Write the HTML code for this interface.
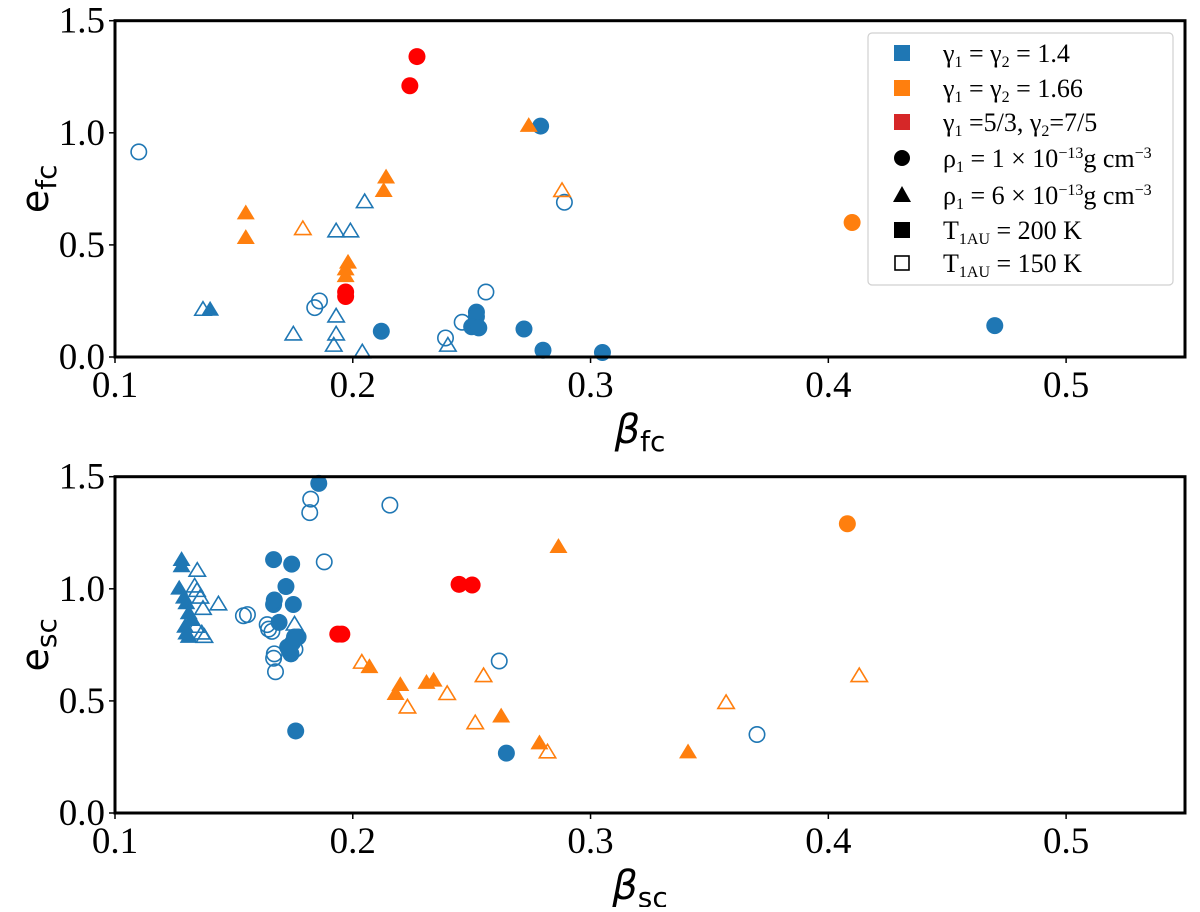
<!DOCTYPE html>
<html><head><meta charset="utf-8"><style>
html,body{margin:0;padding:0;background:#fff;}
svg text{font-family:"Liberation Serif",serif;}
.sans{font-family:"DejaVu Sans","Liberation Sans",sans-serif;}
</style></head><body>
<svg id="fig" width="1200" height="907" viewBox="0 0 1200 907" xmlns="http://www.w3.org/2000/svg">
<g id="top"></g>
<g id="bot"></g>
<g id="legend"></g>
</svg>
<script>
// ---- shared axis data ----
const xTicks = [0.1, 0.2, 0.3, 0.4, 0.5];
const yTicks = [0.0, 0.5, 1.0, 1.5];
const xDomain = [0.1, 0.55];
const yDomain = [0.0, 1.5];

// ---- top panel data (beta_fc, e_fc) ----
const topBlueCircleFilledX = [0.279, 0.47, 0.212, 0.252, 0.252, 0.250, 0.253, 0.272, 0.280, 0.305];
const topBlueCircleFilledY = [1.03, 0.14, 0.115, 0.20, 0.18, 0.135, 0.13, 0.125, 0.03, 0.02];
const topBlueCircleOpenX = [0.110, 0.186, 0.184, 0.239, 0.246, 0.256, 0.289];
const topBlueCircleOpenY = [0.915, 0.25, 0.22, 0.085, 0.155, 0.29, 0.69];
const topBlueTriOpenX = [0.137, 0.175, 0.193, 0.199, 0.205, 0.193, 0.193, 0.192, 0.204, 0.240];
const topBlueTriOpenY = [0.21, 0.10, 0.56, 0.56, 0.69, 0.18, 0.10, 0.05, 0.02, 0.05];
const topBlueTriFilledX = [0.140];
const topBlueTriFilledY = [0.21];
const topOrangeTriFilledX = [0.155, 0.155, 0.214, 0.213, 0.198, 0.197, 0.197, 0.274];
const topOrangeTriFilledY = [0.64, 0.53, 0.80, 0.74, 0.42, 0.39, 0.36, 1.03];
const topOrangeTriOpenX = [0.179, 0.288];
const topOrangeTriOpenY = [0.57, 0.74];
const topOrangeCircleFilledX = [0.41];
const topOrangeCircleFilledY = [0.60];
const topRedCircleX = [0.227, 0.224, 0.197, 0.197];
const topRedCircleY = [1.34, 1.21, 0.29, 0.27];

// ---- bottom panel data (beta_sc, e_sc) ----
const botBlueCircleFilledX = [0.1857, 0.1667, 0.1743, 0.1719, 0.1667, 0.167, 0.175, 0.169, 0.177, 0.1747, 0.174, 0.1726, 0.1755, 0.176, 0.2646];
const botBlueCircleFilledY = [1.47, 1.13, 1.11, 1.01, 0.93, 0.95, 0.93, 0.85, 0.785, 0.76, 0.71, 0.74, 0.785, 0.366, 0.267];
const botBlueCircleOpenX = [0.1823, 0.1819, 0.188, 0.2156, 0.1557, 0.154, 0.164, 0.1646, 0.166, 0.167, 0.1667, 0.1675, 0.1757, 0.2616, 0.370];
const botBlueCircleOpenY = [1.40, 1.34, 1.12, 1.373, 0.885, 0.88, 0.84, 0.82, 0.81, 0.71, 0.69, 0.63, 0.73, 0.678, 0.35];
const botBlueTriFilledX = [0.128, 0.127, 0.129, 0.130, 0.131, 0.1295, 0.130, 0.131, 0.128, 0.132];
const botBlueTriFilledY = [1.128, 1.00, 0.96, 0.935, 0.89, 0.83, 0.80, 0.785, 1.10, 0.86];
const botBlueTriOpenX = [0.1346, 0.1335, 0.1359, 0.137, 0.1435, 0.1376, 0.1365, 0.1345, 0.1755, 0.134];
const botBlueTriOpenY = [1.08, 1.01, 0.96, 0.91, 0.93, 0.785, 0.80, 0.99, 0.84, 0.83];
const botOrangeTriFilledX = [0.207, 0.220, 0.218, 0.231, 0.234, 0.2624, 0.2785, 0.2865, 0.341];
const botOrangeTriFilledY = [0.65, 0.57, 0.53, 0.58, 0.59, 0.43, 0.31, 1.186, 0.27];
const botOrangeTriOpenX = [0.2038, 0.223, 0.2397, 0.255, 0.2515, 0.2819, 0.357, 0.413];
const botOrangeTriOpenY = [0.67, 0.47, 0.53, 0.61, 0.40, 0.27, 0.49, 0.61];
const botOrangeCircleFilledX = [0.408];
const botOrangeCircleFilledY = [1.29];
const botRedCircleX = [0.2447, 0.2502, 0.1937, 0.1954];
const botRedCircleY = [1.02, 1.017, 0.798, 0.798];

const NS = "http://www.w3.org/2000/svg";
const BLUE = "#1f77b4", ORANGE = "#ff7f0e", RED = "#ff0000";
function mk(tag, attrs, parent){ const e=document.createElementNS(NS,tag); for(const k in attrs) e.setAttribute(k,attrs[k]); parent.appendChild(e); return e; }

function panel(g, top, bottom, xlab, ylab, series, nameP){
  const L=115, R=1185;
  const sx = v => L + (v - xDomain[0]) / (xDomain[1]-xDomain[0]) * (R-L);
  const sy = v => bottom - (v - yDomain[0]) / (yDomain[1]-yDomain[0]) * (bottom-top);
  series.forEach(s => {
    s.xs.forEach((xv,i) => {
      const cx=sx(xv), cy=sy(s.ys[i]);
      let el;
      const fill = s.filled ? s.color : "none";
      const sw = s.filled ? 0 : 1.6;
      const rr = s.filled ? 8.5 : 7.7;
      if (s.shape === "circle") {
        el = mk("circle",{cx:cx,cy:cy,r:rr,fill:fill,stroke:s.color,"stroke-width":sw},g);
      } else {
        const h = s.filled ? 9 : 8.2;
        el = mk("polygon",{points:`${cx},${cy-h} ${cx+h*1.0},${cy+h*0.65} ${cx-h*1.0},${cy+h*0.65}`,fill:fill,stroke:s.color,"stroke-width":sw,"stroke-linejoin":"miter"},g);
      }
      
      
    });
  });
  const fr = mk("rect",{x:L,y:top,width:R-L,height:bottom-top,fill:"none",stroke:"#000","stroke-width":3},g);
  
  
  xTicks.forEach(t => {
    const x=sx(t);
    const tk = mk("line",{x1:x,x2:x,y1:bottom,y2:bottom+6,stroke:"#000","stroke-width":1.5},g);
    
    
    const tx = mk("text",{x:x,y:bottom+40,"text-anchor":"middle","font-size":37},g);
    tx.textContent = t.toFixed(1);
    
    
  });
  yTicks.forEach(t => {
    const y=sy(t);
    const tk = mk("line",{x1:L-6,x2:L,y1:y,y2:y,stroke:"#000","stroke-width":1.5},g);
    
    
    const tx = mk("text",{x:L-10,y:y+12,"text-anchor":"end","font-size":37},g);
    tx.textContent = t.toFixed(1);
    
    
  });
  const xt = mk("text",{x:640,y:bottom+86,"text-anchor":"middle","font-size":40,"font-style":"italic",class:"sans"},g);
  xt.innerHTML = 'β<tspan font-size="28" font-style="normal" dy="8">'+xlab+'</tspan>';
  
  
  const cy=(top+bottom)/2;
  const yt = mk("text",{x:0,y:0,"text-anchor":"middle","font-size":38,class:"sans",transform:`translate(48,${cy}) rotate(-90)`},g);
  yt.innerHTML = 'e<tspan font-size="28" dy="8">'+ylab+'</tspan>';
  
  
}

panel(document.getElementById("top"), 20.7, 357, "fc", "fc", [
  {name:"blue-open-circle", xs:topBlueCircleOpenX, ys:topBlueCircleOpenY, color:BLUE, shape:"circle", filled:false},
  {name:"blue-open-triangle", xs:topBlueTriOpenX, ys:topBlueTriOpenY, color:BLUE, shape:"tri", filled:false},
  {name:"blue-filled-circle", xs:topBlueCircleFilledX, ys:topBlueCircleFilledY, color:BLUE, shape:"circle", filled:true},
  {name:"blue-filled-triangle", xs:topBlueTriFilledX, ys:topBlueTriFilledY, color:BLUE, shape:"tri", filled:true},
  {name:"orange-open-triangle", xs:topOrangeTriOpenX, ys:topOrangeTriOpenY, color:ORANGE, shape:"tri", filled:false},
  {name:"orange-filled-triangle", xs:topOrangeTriFilledX, ys:topOrangeTriFilledY, color:ORANGE, shape:"tri", filled:true},
  {name:"orange-filled-circle", xs:topOrangeCircleFilledX, ys:topOrangeCircleFilledY, color:ORANGE, shape:"circle", filled:true},
  {name:"red-filled-circle", xs:topRedCircleX, ys:topRedCircleY, color:RED, shape:"circle", filled:true}
], "top");

panel(document.getElementById("bot"), 476.7, 813, "sc", "sc", [
  {name:"blue-open-circle", xs:botBlueCircleOpenX, ys:botBlueCircleOpenY, color:BLUE, shape:"circle", filled:false},
  {name:"blue-open-triangle", xs:botBlueTriOpenX, ys:botBlueTriOpenY, color:BLUE, shape:"tri", filled:false},
  {name:"blue-filled-circle", xs:botBlueCircleFilledX, ys:botBlueCircleFilledY, color:BLUE, shape:"circle", filled:true},
  {name:"blue-filled-triangle", xs:botBlueTriFilledX, ys:botBlueTriFilledY, color:BLUE, shape:"tri", filled:true},
  {name:"orange-open-triangle", xs:botOrangeTriOpenX, ys:botOrangeTriOpenY, color:ORANGE, shape:"tri", filled:false},
  {name:"orange-filled-triangle", xs:botOrangeTriFilledX, ys:botOrangeTriFilledY, color:ORANGE, shape:"tri", filled:true},
  {name:"orange-filled-circle", xs:botOrangeCircleFilledX, ys:botOrangeCircleFilledY, color:ORANGE, shape:"circle", filled:true},
  {name:"red-filled-circle", xs:botRedCircleX, ys:botRedCircleY, color:RED, shape:"circle", filled:true}
], "bottom");

// ---- legend ----
const lg = document.getElementById("legend");
const box = mk("rect",{x:868,y:33,width:305,height:252,rx:4,fill:"#fff",stroke:"#d0d0d0","stroke-width":1.2},lg);


const legRows = [
  {y:53, kind:"sq", color:"#1f77b4", html:'γ<tspan font-size="16" dy="5">1</tspan><tspan dy="-5"> = γ</tspan><tspan font-size="16" dy="5">2</tspan><tspan dy="-5"> = 1.4</tspan>', name:"legend-entry-gamma-1-4"},
  {y:88, kind:"sq", color:"#ff7f0e", html:'γ<tspan font-size="16" dy="5">1</tspan><tspan dy="-5"> = γ</tspan><tspan font-size="16" dy="5">2</tspan><tspan dy="-5"> = 1.66</tspan>', name:"legend-entry-gamma-1-66"},
  {y:122, kind:"sq", color:"#d62728", html:'γ<tspan font-size="16" dy="5">1</tspan><tspan dy="-5"> =5/3, γ</tspan><tspan font-size="16" dy="5">2</tspan><tspan dy="-5">=7/5</tspan>', name:"legend-entry-gamma-mixed"},
  {y:158, kind:"circ", color:"#000", html:'ρ<tspan font-size="16" dy="5">1</tspan><tspan dy="-5"> = 1 × 10</tspan><tspan font-size="16" dy="-9">−13</tspan><tspan dy="9">g cm</tspan><tspan font-size="16" dy="-9">−3</tspan>', name:"legend-entry-rho-1e-13"},
  {y:195, kind:"tri", color:"#000", html:'ρ<tspan font-size="16" dy="5">1</tspan><tspan dy="-5"> = 6 × 10</tspan><tspan font-size="16" dy="-9">−13</tspan><tspan dy="9">g cm</tspan><tspan font-size="16" dy="-9">−3</tspan>', name:"legend-entry-rho-6e-13"},
  {y:230, kind:"sq", color:"#000", html:'T<tspan font-size="16" dy="5">1AU</tspan><tspan dy="-5"> = 200 K</tspan>', name:"legend-entry-t-200k"},
  {y:263, kind:"open", color:"#000", html:'T<tspan font-size="16" dy="5">1AU</tspan><tspan dy="-5"> = 150 K</tspan>', name:"legend-entry-t-150k"}
];
legRows.forEach(r => {
  const g = mk("g",{},lg);
  
  
  const cx=902, cy=r.y;
  if (r.kind==="sq") mk("rect",{x:cx-8,y:cy-8,width:16,height:16,fill:r.color},g);
  else if (r.kind==="open") mk("rect",{x:cx-7,y:cy-7,width:14,height:14,fill:"none",stroke:"#000","stroke-width":1.6},g);
  else if (r.kind==="circ") mk("circle",{cx:cx,cy:cy,r:8,fill:"#000"},g);
  else mk("polygon",{points:`${cx},${cy-9} ${cx+9},${cy+7} ${cx-9},${cy+7}`,fill:"#000"},g);
  const t = mk("text",{x:943,y:cy+9,"font-size":26},g);
  t.innerHTML = r.html;
});
</script>
</body></html>
